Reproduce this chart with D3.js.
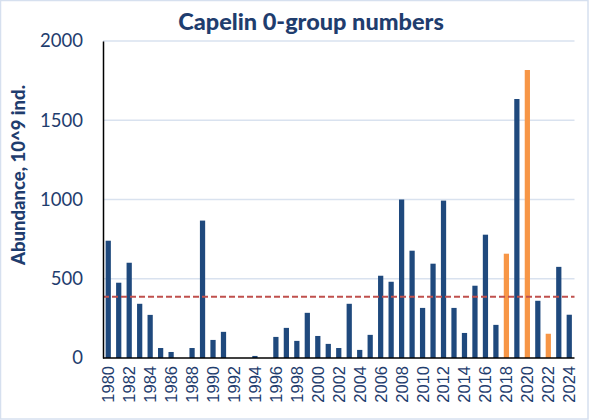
<!DOCTYPE html>
<html><head><meta charset="utf-8">
<script src="https://cdn.jsdelivr.net/npm/d3@7"></script>
<style>body{margin:0;background:#fff}svg{display:block}</style>
</head><body>
<script>
const years = d3.range(1980, 2025);
const values = [740,475,601,342,272,63,38,0,63,867,114,165,0,0,13,0,133,190,108,285,139,89,63,342,51,146,519,481,1000,677,316,595,993,316,158,456,778,209,658,1634,1817,361,153,575,273];
const orangeYears = [2018,2020,2022];
const meanLine = 387;
const yTicks = [0,500,1000,1500,2000];
const title = "Capelin 0-group numbers";
const yLabel = "Abundance,  10^9 ind.";

const W=589,H=420;
const m={l:103,r:14.5,t:41,b:62};
const svg=d3.select("body").append("svg").attr("width",W).attr("height",H);
svg.append("rect").attr("x",0.5).attr("y",0.5).attr("width",W-1.5).attr("height",H-1.5).attr("fill","#fff").attr("stroke","#d6e0ef").attr("stroke-width",1.5);

const x=d3.scaleBand().domain(years).range([m.l,W-m.r]).paddingInner(0.5).paddingOuter(0.25);
const y=d3.scaleLinear().domain([0,2000]).range([H-m.b,m.t]);

// gridlines
svg.append("g").selectAll("line").data(yTicks.slice(1)).join("line")
  .attr("x1",m.l).attr("x2",W-m.r).attr("y1",d=>y(d)).attr("y2",d=>y(d))
  .attr("stroke","#d9e2ef").attr("stroke-width",1.3);

// bars
svg.append("g").selectAll("rect").data(years.map((yr,i)=>({yr,v:values[i]}))).join("rect")
  .attr("x",d=>x(d.yr)).attr("width",x.bandwidth())
  .attr("y",d=>y(d.v)).attr("height",d=>y(0)-y(d.v))
  .attr("fill",d=>orangeYears.includes(d.yr)?"#f79646":"#1f497d");

// mean line
svg.append("line").attr("x1",m.l).attr("x2",W-m.r).attr("y1",y(meanLine)).attr("y2",y(meanLine))
  .attr("stroke","#c0504d").attr("stroke-width",2).attr("stroke-dasharray","6,3");

// axes
const yAx=svg.append("g").attr("transform",`translate(${m.l},0)`)
  .call(d3.axisLeft(y).tickValues(yTicks).tickSize(0).tickPadding(20).tickFormat(d3.format("d")));
yAx.select(".domain").attr("stroke","#000").attr("stroke-width",1.5);
yAx.selectAll("text").attr("font-family","Lato, 'Open Sans', sans-serif").attr("font-size",18.5).attr("fill","#1f3d6e");

const xAx=svg.append("g").attr("transform",`translate(0,${H-m.b})`)
  .call(d3.axisBottom(x).tickValues(years.filter(d=>d%2===0)).tickSize(0).tickFormat(d3.format("d")));
xAx.select(".domain").attr("stroke","#000").attr("stroke-width",1.5).attr("d",`M${m.l},0H${W-m.r}`);
xAx.selectAll("text").attr("font-family","'Liberation Sans', Arial, sans-serif").attr("font-size",16.5).attr("fill","#1f3d6e")
  .attr("transform","rotate(-90)").attr("text-anchor","end").attr("dy","0.36em").attr("x",-8).attr("y",0);

// title
svg.append("text").attr("x",311).attr("y",30).attr("text-anchor","middle")
  .attr("font-family","Lato, 'Open Sans', sans-serif").attr("font-weight","900").attr("font-size",23.5)
  .attr("fill","#1f3d6e").text(title);
// y label
svg.append("text").attr("transform","translate(25,175) rotate(-90)").attr("text-anchor","middle")
  .attr("font-family","Lato, 'Open Sans', sans-serif").attr("font-weight","900").attr("font-size",18.5)
  .attr("fill","#1f3d6e").text(yLabel);
</script>
</body></html>
